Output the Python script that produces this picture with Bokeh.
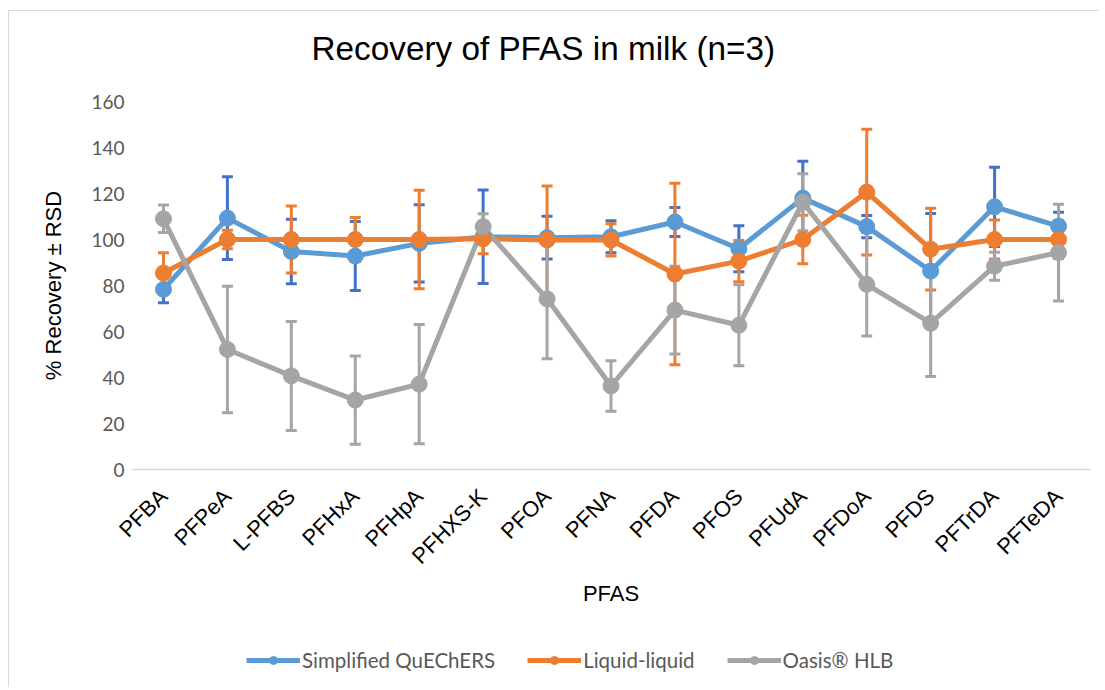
import math
from bokeh.plotting import figure
from bokeh.layouts import column
from bokeh.models import (ColumnDataSource, Whisker, Range1d, FactorRange, Legend,
                          LegendItem, TeeHead, FixedTicker)
from bokeh.embed import file_html
from bokeh.resources import INLINE

compounds = ["PFBA", "PFPeA", "L-PFBS", "PFHxA", "PFHpA", "PFHXS-K", "PFOA", "PFNA",
             "PFDA", "PFOS", "PFUdA", "PFDoA", "PFDS", "PFTrDA", "PFTeDA"]

quechers = [78.3, 109.3, 94.8, 92.8, 98.3, 101.2, 100.8, 101.2, 107.6, 96.0, 118.0, 105.6, 86.3, 114.2, 105.8]
quechers_rsd = [5.8, 18.0, 14.0, 15.0, 16.8, 20.3, 9.3, 7.0, 6.3, 10.0, 16.0, 4.8, 25.0, 17.2, 6.0]

liquid = [85.4, 100.0, 100.0, 100.0, 100.0, 100.3, 99.8, 99.8, 85.0, 90.6, 100.0, 120.6, 95.8, 100.0, 100.0]
liquid_rsd = [8.8, 4.0, 14.6, 9.6, 21.4, 6.5, 23.5, 7.0, 39.5, 9.0, 10.5, 27.3, 17.8, 8.5, 8.3]

oasis = [109.0, 52.2, 40.7, 30.2, 37.1, 105.6, 74.2, 36.3, 69.3, 62.7, 116.2, 80.5, 63.6, 88.4, 94.3]
oasis_rsd = [6.0, 27.5, 23.7, 19.2, 25.9, 5.6, 26.0, 11.0, 19.1, 17.6, 12.4, 22.5, 23.2, 6.1, 21.0]

series_names = ["Simplified QuEChERS", "Liquid-liquid", "Oasis\u00ae HLB"]
y_ticks = [0, 20, 40, 60, 80, 100, 120, 140, 160]
title_text = "Recovery of PFAS in milk (n=3)"

line_colors = ["#5B9BD5", "#ED7D31", "#A5A5A5"]
bar_colors = ["#4472C4", "#ED7D31", "#A5A5A5"]


def blank_strip(height, border_top):
    f = figure(width=1090, height=height, x_range=Range1d(0, 1), y_range=Range1d(0, 1),
               output_backend="svg", toolbar_location=None, x_axis_type=None, y_axis_type=None,
               min_border_left=0, min_border_right=0, min_border_top=border_top,
               min_border_bottom=0)
    f.outline_line_color = None
    f.xgrid.grid_line_color = None
    f.ygrid.grid_line_color = None
    return f


# title strip
tp = blank_strip(78, 55)
tp.title.text = title_text
tp.title.align = "left"
tp.title.offset = 180
tp.title.standoff = 0
tp.title.text_font = "Liberation Sans"
tp.title.text_font_size = "33.3px"
tp.title.text_font_style = "normal"
tp.title.text_color = "#000000"

# main chart
p = figure(width=1090, height=542, x_range=FactorRange(*compounds, range_padding=0),
           y_range=Range1d(0, 160), output_backend="svg", toolbar_location=None,
           min_border_left=122, min_border_right=9, min_border_top=12, min_border_bottom=162)

p.outline_line_color = None
p.xgrid.grid_line_color = None
p.ygrid.grid_line_color = None
p.background_fill_color = "white"
p.border_fill_color = "white"

p.yaxis.ticker = FixedTicker(ticks=y_ticks)
p.yaxis.axis_line_color = None
p.yaxis.major_tick_line_color = None
p.yaxis.minor_tick_line_color = None
p.yaxis.major_label_text_font = "Lato"
p.yaxis.major_label_text_font_size = "19px"
p.yaxis.major_label_text_color = "#595959"
p.yaxis.major_label_standoff = 1
p.yaxis.axis_label = "% Recovery \u00b1 RSD"
p.yaxis.axis_label_text_font = "Liberation Sans"
p.yaxis.axis_label_text_font_size = "22px"
p.yaxis.axis_label_text_font_style = "normal"
p.yaxis.axis_label_text_color = "#000000"
p.yaxis.axis_label_standoff = 22

p.xaxis.axis_line_color = "#D9D9D9"
p.xaxis.axis_line_width = 1.5
p.xaxis.major_tick_line_color = None
p.xaxis.minor_tick_line_color = None
p.xaxis.major_label_orientation = math.pi / 4
p.xaxis.major_label_text_font = "Liberation Sans"
p.xaxis.major_label_text_font_size = "22px"
p.xaxis.major_label_text_color = "#000000"
p.xaxis.major_label_standoff = 17
p.xaxis.axis_label = "PFAS"
p.xaxis.axis_label_text_font = "Liberation Sans"
p.xaxis.axis_label_text_font_size = "22px"
p.xaxis.axis_label_text_font_style = "normal"
p.xaxis.axis_label_text_color = "#000000"
p.xaxis.axis_label_standoff = 0

all_vals = [quechers, liquid, oasis]
all_rsd = [quechers_rsd, liquid_rsd, oasis_rsd]
sources = []
for vals, rsd in zip(all_vals, all_rsd):
    sources.append(ColumnDataSource(dict(
        x=compounds, y=vals,
        upper=[v + r for v, r in zip(vals, rsd)],
        lower=[v - r for v, r in zip(vals, rsd)])))

# error bars first, then lines, then markers
for src, col in zip(sources, bar_colors):
    w = Whisker(source=src, base="x", upper="upper", lower="lower",
                line_color=col, line_width=3,
                upper_head=TeeHead(size=11, line_color=col, line_width=3),
                lower_head=TeeHead(size=11, line_color=col, line_width=3),
                level="underlay")
    p.add_layout(w)

for src, col in zip(sources, line_colors):
    p.line("x", "y", source=src, line_color=col, line_width=5)
for src, col in zip(sources, line_colors):
    p.scatter("x", "y", source=src, size=16, marker="circle",
              fill_color=col, line_color=col)

# legend strip below the chart
lg = blank_strip(56, 0)
items = []
for n, col in zip(series_names, line_colors):
    l = lg.line(x=[-2, -1], y=[-2, -1], line_color=col, line_width=5)
    m = lg.scatter(x=[-1], y=[-1], size=13, marker="circle", fill_color=col, line_color=col)
    items.append(LegendItem(label=n, renderers=[l, m]))
legend = Legend(items=items, orientation="horizontal", location=(115, 15),
                label_text_font="Lato", label_text_font_size="20.5px",
                label_text_color="#595959", glyph_width=54, glyph_height=20,
                spacing=32, padding=0, margin=0, label_standoff=2,
                border_line_color=None, background_fill_alpha=0)
lg.add_layout(legend, "center")

layout = column(tp, p, lg, spacing=0)
layout.styles = {"border-left": "1px solid #D9D9D9", "border-top": "1px solid #D9D9D9",
                 "margin-left": "8px", "margin-top": "10px"}

open("out.html", "w").write(file_html(layout, INLINE))
